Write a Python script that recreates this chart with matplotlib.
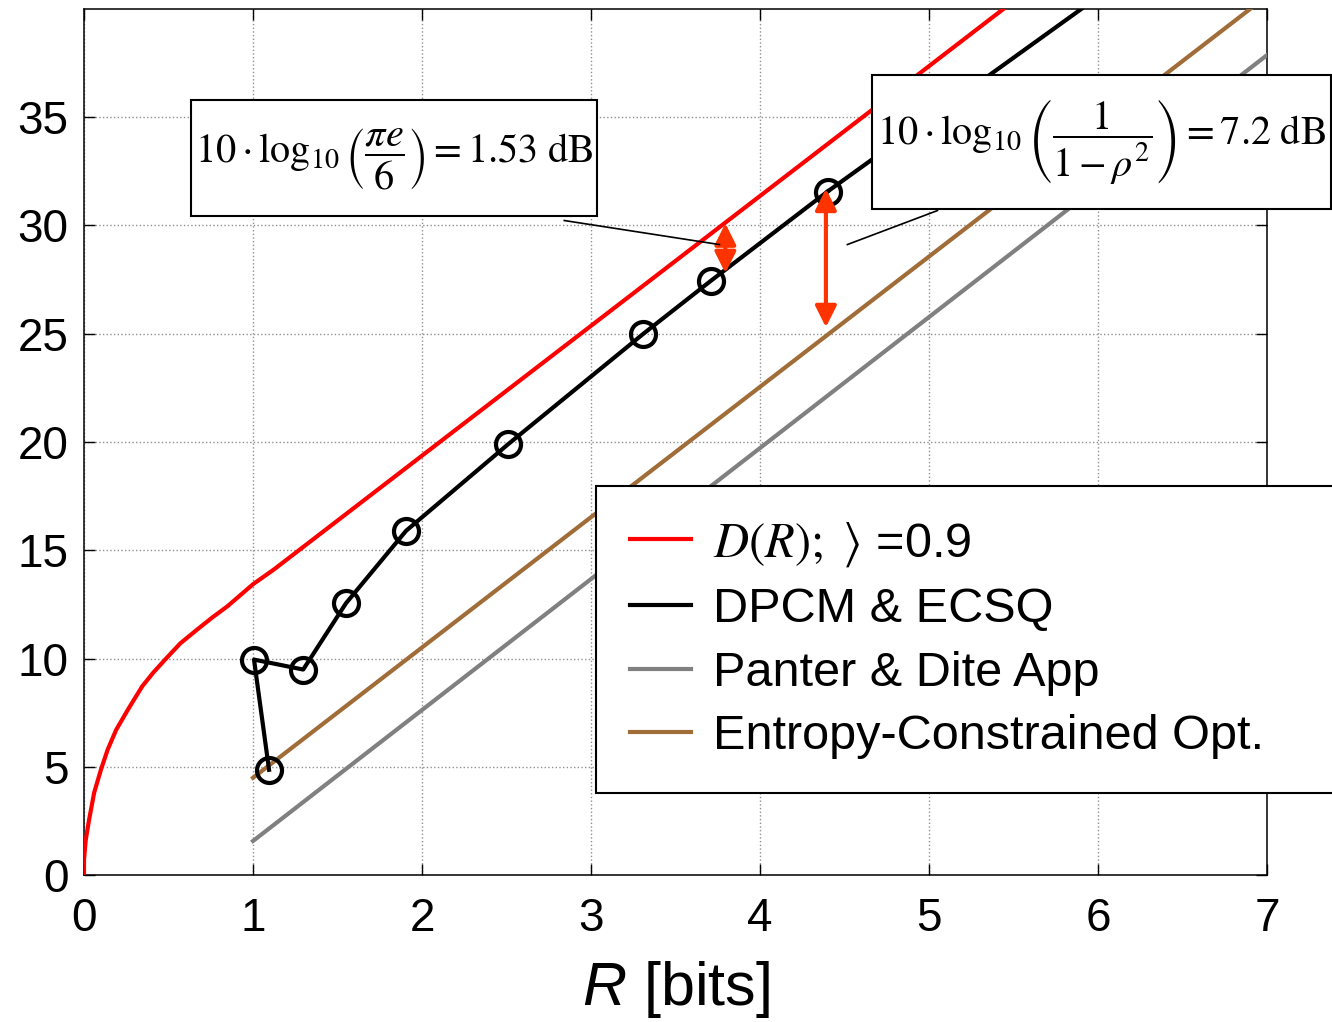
import matplotlib
matplotlib.use("Agg")
import matplotlib.pyplot as plt
from matplotlib.patches import Rectangle

plt.rcParams['font.family'] = ['Liberation Sans', 'DejaVu Sans']
plt.rcParams['mathtext.fontset'] = 'custom'
plt.rcParams['mathtext.rm'] = 'Liberation Sans'
plt.rcParams['mathtext.it'] = 'Liberation Sans:italic'

# D(R) for Gauss-Markov source, rho = 0.9
dr_rate = [0.0, 0.0, 0.01, 0.03, 0.06, 0.10, 0.14, 0.19, 0.26, 0.30, 0.345, 0.41, 0.48, 0.57, 0.67, 0.76, 0.85, 1.0, 1.125, 5.44, 5.6]
dr_snr = [0.0, 0.7, 1.6, 2.55, 3.8, 4.86, 5.79, 6.7, 7.64, 8.15, 8.72, 9.35, 9.95, 10.7, 11.34, 11.9, 12.42, 13.43, 14.12, 40.0, 41.0]

# DPCM & ECSQ measurements
dpcm_rate = [1.095, 1.006, 1.297, 1.55, 1.906, 2.51, 3.31, 3.71, 4.40]
dpcm_snr = [4.86, 9.95, 9.49, 12.55, 15.9, 19.9, 25.0, 27.45, 31.57]
dpcm_line_rate = [4.40, 5.91, 6.0]
dpcm_line_snr = [31.57, 40.05, 40.6]

# Panter & Dite approximation
pd_rate = [1.0, 7.0]
pd_snr = [1.57, 37.87]

# Entropy-constrained optimum
ec_rate = [1.0, 6.9, 7.0]
ec_snr = [4.49, 40.0, 40.6]

fig = plt.figure(figsize=(13.32, 10.22), dpi=100)
ax = fig.add_axes([84 / 1332, 1 - 875 / 1022, (1267 - 84) / 1332, (875 - 9) / 1022])

ax.plot(dr_rate, dr_snr, color='#ff0000', lw=3, label=r'$\mathit{D(R);}\ \rangle$ =0.9', zorder=3)
ax.plot(dpcm_rate, dpcm_snr, color='black', lw=3, marker='o', ms=18, mfc='none', mew=3, zorder=4)
ax.plot(dpcm_line_rate, dpcm_line_snr, color='black', lw=3, zorder=4)
ax.plot([], [], color='black', lw=3, label='DPCM & ECSQ')
ax.plot(pd_rate, pd_snr, color='#808080', lw=3, label='Panter & Dite App', zorder=3)
ax.plot(ec_rate, ec_snr, color='#a06c38', lw=3, label='Entropy-Constrained Opt.', zorder=3)

ax.set_xlim(0, 7)
ax.set_ylim(0, 40)
ax.set_xticks(range(0, 8))
ax.set_yticks(range(0, 40, 5))
ax.grid(True, color='#909090', linestyle=':', linewidth=1)
ax.tick_params(direction='in', length=8, width=1, top=True, right=True,
               labelsize=33, pad=11)
ax.tick_params(axis='x', pad=16)
for s in ax.spines.values():
    s.set_linewidth(1.1)
ax.set_xlabel(r'$R$ [bits]', fontsize=44, labelpad=13)

# dB gap arrows
arr_col = '#ff3300'
ax.annotate('', xy=(3.795, 30.1), xytext=(3.795, 27.8),
            arrowprops=dict(arrowstyle='<|-|>', color=arr_col, lw=3, mutation_scale=32,
                            shrinkA=0, shrinkB=0), zorder=5)
ax.annotate('', xy=(4.39, 31.7), xytext=(4.39, 25.3),
            arrowprops=dict(arrowstyle='<|-|>', color=arr_col, lw=3, mutation_scale=32,
                            shrinkA=0, shrinkB=0), zorder=5)

# leader lines
ax.plot([2.842, 3.76], [30.23, 29.12], color='black', lw=1.2, zorder=5)
ax.plot([5.05, 4.517], [30.69, 29.12], color='black', lw=1.2, zorder=5)

# formula boxes
ax.add_patch(Rectangle((0.634, 30.42), 2.403, 5.37, facecolor='white', edgecolor='black',
                       lw=1.5, zorder=6, clip_on=False))
ax.add_patch(Rectangle((4.66, 30.74), 2.72, 6.2, facecolor='white', edgecolor='black',
                       lw=1.5, zorder=6, clip_on=False))
t1 = ax.text(1.835, 33.1, r'$10\cdot\log_{10}\left(\dfrac{\pi e}{6}\right)=1.53\ \mathrm{dB}$',
             fontsize=29, ha='center', va='center', zorder=7, clip_on=False)
t1.set_math_fontfamily('stix')
t2 = ax.text(6.02, 33.9, r'$10\cdot\log_{10}\left(\dfrac{1}{1-\rho^2}\right)=7.2\ \mathrm{dB}$',
             fontsize=29, ha='center', va='center', zorder=7, clip_on=False)
t2.set_math_fontfamily('stix')

leg = ax.legend(loc='upper left', bbox_to_anchor=(596 / 1332, 0, 740 / 1332, 1 - 486 / 1022),
                bbox_transform=fig.transFigure, mode='expand', borderaxespad=0,
                fontsize=35, handlelength=1.25, handletextpad=0.45, borderpad=0.7,
                labelspacing=0.38, fancybox=False, framealpha=1, edgecolor='black')
leg.get_frame().set_linewidth(1.5)
leg.get_texts()[0].set_math_fontfamily('stix')
leg.set_zorder(8)

fig.savefig('out.png', dpi=100)
